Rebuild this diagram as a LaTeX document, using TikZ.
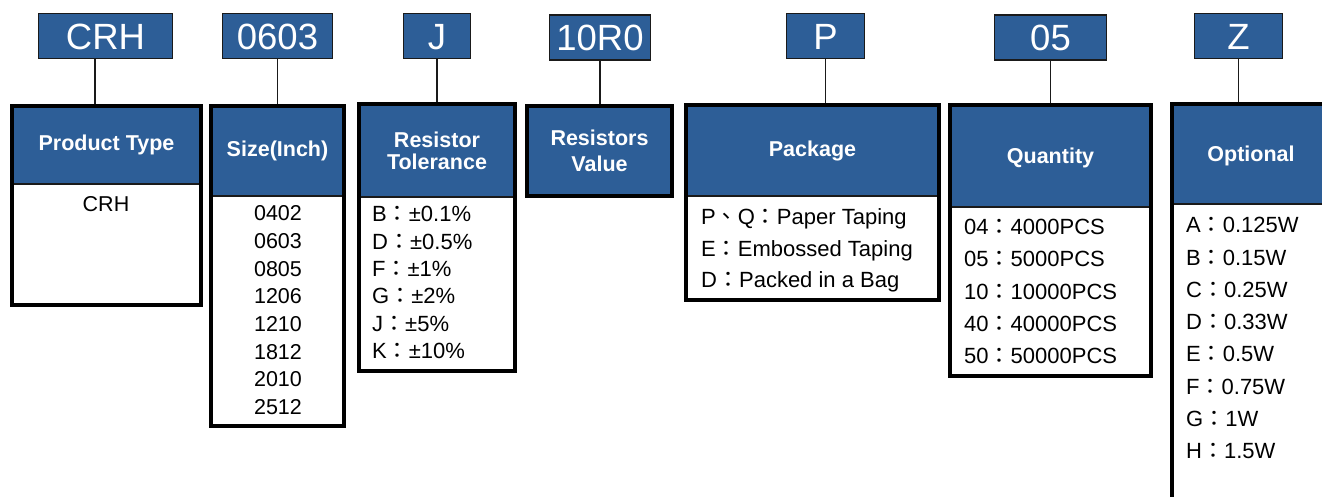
\documentclass[tikz,border=0pt]{standalone}
\usepackage{fontspec}
\setmainfont{Liberation Sans}
\newfontfamily\cjk{Noto Sans CJK TC}
\definecolor{pblue}{HTML}{2D5E97}
\definecolor{edge}{HTML}{1A1A1A}
\newcommand{\cc}{{\cjk ：}}
\newcommand{\dn}{{\cjk 、}}
\begin{document}
\begin{tikzpicture}[x=1pt,y=-1pt,
  lab/.style={draw=edge, line width=1.3pt, fill=pblue, text=white,
    font=\fontsize{36.5}{40}\selectfont, minimum height=45, inner sep=0pt,
    text height=26.1pt, text depth=0pt},
  hdr/.style={fill=pblue, text=white, anchor=north west, inner sep=0pt, outer sep=0pt,
    font=\bfseries\fontsize{21.5}{23}\selectfont, align=center},
  frame/.style={draw=black, line width=4pt, anchor=north west, inner sep=0pt, outer sep=0pt},
  sep/.style={draw=edge, line width=2pt},
  link/.style={draw=edge, line width=1.3pt},
  bodyl/.style={font=\fontsize{22}{24}\selectfont, inner sep=0pt, anchor=base west},
  bodyc/.style={font=\fontsize{21.5}{24}\selectfont, inner sep=0pt, anchor=base}]
\useasboundingbox (0,0) rectangle (1322,497);
\fill[white] (0,0) rectangle (1322,497);
\clip (0,0) rectangle (1322,497);

% top labels
\node[lab, minimum width=134] (l1) at (105.5,36) {CRH};
\node[lab, minimum width=110] (l2) at (277.5,36) {0603};
\node[lab, minimum width=67] (l3) at (437,36) {J};
\node[lab, minimum width=101] (l4) at (600,37.5) {10R0};
\node[lab, minimum width=78] (l5) at (825.5,36) {P};
\node[lab, minimum width=112] (l6) at (1050.5,37.5) {05};
\node[lab, minimum width=88] (l7) at (1238.5,36) {Z};

% headers
\node[hdr, minimum width=189, minimum height=78] (h1) at (12,106) {Product Type};
\node[hdr, minimum width=133, minimum height=90] (h2) at (211,106) {Size(Inch)};
\node[hdr, minimum width=156, minimum height=93, font=\bfseries\fontsize{21.5}{22}\selectfont] (h3) at (359,104) {Resistor\\Tolerance};
\node[hdr, minimum width=145, minimum height=90, font=\bfseries\fontsize{21.5}{26}\selectfont] (h4) at (527,106) {Resistors\\Value};
\node[hdr, minimum width=253, minimum height=91] (h5) at (686,105) {Package};
\node[hdr, minimum width=201, minimum height=102, text depth=-3pt] (h6) at (950,105) {Quantity};
\node[hdr, minimum width=158, minimum height=100, text depth=-3pt] (h7) at (1172,104) {Optional};

\draw[sep] (h1.south west) -- (h1.south east);
\draw[sep] (h2.south west) -- (h2.south east);
\draw[sep] (h3.south west) -- (h3.south east);
\draw[sep] (h5.south west) -- (h5.south east);
\draw[sep] (h6.south west) -- (h6.south east);
\draw[sep] (h7.south west) -- (h7.south east);

% frames
\node[frame, minimum width=189, minimum height=199] (b1) at (12,106) {};
\node[frame, minimum width=133, minimum height=320] (b2) at (211,106) {};
\node[frame, minimum width=156, minimum height=267] (b3) at (359,104) {};
\node[frame, minimum width=145, minimum height=90] (b4) at (527,106) {};
\node[frame, minimum width=253, minimum height=195] (b5) at (686,105) {};
\node[frame, minimum width=201, minimum height=271] (b6) at (950,105) {};
\node[frame, minimum width=158, minimum height=440] (b7) at (1172,104) {};

% connectors
\draw[link] ([xshift=-10.5pt]l1.south) -- ([xshift=-10.5pt,yshift=2pt]l1.south |- b1.north);
\draw[link] (l2.south) -- ([yshift=2pt]l2.south |- b2.north);
\draw[link] (l3.south) -- ([yshift=2pt]l3.south |- b3.north);
\draw[link] (l4.south) -- ([yshift=2pt]l4.south |- b4.north);
\draw[link] (l5.south) -- ([yshift=2pt]l5.south |- b5.north);
\draw[link] (l6.south) -- ([yshift=2pt]l6.south |- b6.north);
\draw[link] (l7.south) -- ([yshift=2pt]l7.south |- b7.north);

% body texts
\node[bodyc] (p1) at (106,211.5) {CRH};
\foreach \t [count=\i from 0] in {0402,0603,0805,1206,1210,1812,2010,2512}
  \node[bodyc] (s\i) at (278,220.7+27.7*\i) {\t};
\foreach \t [count=\i from 0] in {B\cc±0.1\%,D\cc±0.5\%,F\cc±1\%,G\cc±2\%,J\cc±5\%,K\cc±10\%}
  \node[bodyl] (t\i) at (372,221.7+27.4*\i) {\t};
\foreach \t [count=\i from 0] in {P\dn Q\cc Paper Taping,E\cc Embossed Taping,D\cc Packed in a Bag}
  \node[bodyl] (k\i) at (701,224.7+31.5*\i) {\t};
\foreach \t [count=\i from 0] in {04\cc 4000PCS,05\cc 5000PCS,10\cc 10000PCS,40\cc 40000PCS,50\cc 50000PCS}
  \node[bodyl] (q\i) at (964,234.7+32.25*\i) {\t};
\foreach \t [count=\i from 0] in {A\cc 0.125W,B\cc 0.15W,C\cc 0.25W,D\cc 0.33W,E\cc 0.5W,F\cc 0.75W,G\cc 1W,H\cc 1.5W}
  \node[bodyl] (o\i) at (1186,232.7+32.3*\i) {\t};
\end{tikzpicture}
\end{document}
